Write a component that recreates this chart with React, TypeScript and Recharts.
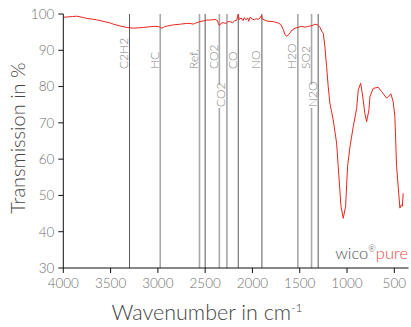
import React from "react";
import { LineChart, Line, XAxis, YAxis, ReferenceLine } from "recharts";

// spectrum (cm-1 / % transmission)
const wavenumbers = [
  4000, 3950, 3900, 3858, 3800, 3753, 3700, 3650, 3612, 3550, 3500, 3471, 3400, 3330, 3260, 3200,
  3150, 3083, 3020, 2990, 2960, 2930, 2900, 2837, 2760, 2700, 2661, 2626, 2600, 2555, 2484, 2420,
  2395, 2370, 2361, 2350, 2330, 2309, 2280, 2260, 2238, 2210, 2190, 2167, 2150, 2140, 2120, 2100,
  2085, 2070, 2050, 2040, 2025, 2000, 1980, 1960, 1940, 1920, 1905, 1895, 1870, 1836, 1780, 1727,
  1700, 1674, 1656, 1638, 1620, 1603, 1580, 1550, 1520, 1480, 1450, 1420, 1390, 1360, 1339, 1310,
  1286, 1262, 1251, 1234, 1216, 1199, 1181, 1146, 1110, 1093, 1064, 1040, 1015, 994, 969, 934,
  898, 881, 856, 839, 811, 793, 768, 758, 723, 670, 634, 581, 536, 512, 494, 476,
  441, 430, 423, 415, 406,
];
const transmission = [
  99.1, 99.2, 99.3, 99.4, 99.1, 98.8, 98.6, 98.4, 98.2, 97.8, 97.5, 97.2, 96.7, 96.3, 96.1, 96.2,
  96.3, 96.5, 96.6, 96.5, 96.1, 96.5, 96.7, 97.0, 97.2, 97.4, 97.4, 97.2, 97.5, 97.9, 98.3, 98.4,
  98.5, 98.2, 97.4, 96.8, 97.5, 97.6, 97.4, 97.9, 97.9, 97.6, 98.1, 98.3, 99.9, 98.5, 98.9, 98.2,
  99.0, 98.4, 98.9, 98.0, 99.1, 98.6, 98.4, 98.7, 98.5, 98.9, 99.6, 98.6, 98.3, 98.0, 97.9, 97.5,
  97.1, 95.7, 94.3, 93.9, 94.2, 94.8, 95.6, 96.1, 96.3, 96.6, 96.4, 96.5, 96.7, 96.9, 97.2, 97.0,
  96.3, 95.0, 94.7, 91.0, 85.5, 80.0, 75.4, 70.8, 64.4, 58.0, 47.0, 43.7, 47.0, 58.0, 63.4, 69.0,
  74.0, 79.1, 80.9, 78.2, 72.6, 70.3, 73.6, 77.2, 79.5, 79.8, 78.6, 76.8, 78.0, 75.8, 71.7, 58.0,
  46.5, 47.2, 47.4, 47.0, 50.6,
];

// gas band markers
const gasNames = ["C2H2", "HC", "Ref.", "", "CO2", "CO2", "CO", "NO", "H2O", "SO2", "N2O"];
const gasBands = [3300, 2975, 2560, 2500, 2350, 2270, 2150, 1900, 1520, 1375, 1305];

const xTicks = [4000, 3500, 3000, 2500, 2000, 1500, 1000, 500];
const yTicks = [30, 40, 50, 60, 70, 80, 90, 100];

const data = wavenumbers.map((wn, i) => ({ wn, t: transmission[i] }));

const darkLines = new Set([0, 3, 6, 7, 10]);
const lowerLabels = new Set([5, 10]);

const FONT = "Lato, 'Open Sans', sans-serif";

function bandLabel(name: string, lower: boolean) {
  return (props: any) => {
    const vb = props.viewBox || {};
    if (!name) return null;
    const x = vb.x - 1.5;
    const y = lower ? 107 : 69;
    const len = name.length * 7.5;
    return (
      <g>
        {lower && <rect x={x - 10} y={y - len} width={10} height={len + 1} fill="#fff" />}
        <text
          x={x}
          y={y}
          transform={`rotate(-90 ${x} ${y})`}
          fontSize={12}
          fontWeight={300}
          fill="#808080"
          fontFamily={FONT}
          textAnchor="start"
        >
          {name}
        </text>
      </g>
    );
  };
}

export default function App() {
  return (
    <div style={{ position: "absolute", left: 0, top: 0, width: 411, height: 327, background: "#fff" }}>
      <LineChart
        width={411}
        height={327}
        data={data}
        margin={{ top: 14, right: 2.5, bottom: 29, left: 13.3 }}
      >
        <XAxis
          dataKey="wn"
          type="number"
          domain={[350, 4000]}
          reversed
          ticks={xTicks}
          allowDataOverflow
          height={30}
          stroke="#111"
          tickSize={5}
          tickMargin={5}
          tick={{ fontSize: 13.5, fill: "#707070", fontFamily: FONT, fontWeight: 300 }}
        />
        <YAxis
          type="number"
          domain={[30, 100]}
          ticks={yTicks}
          allowDataOverflow
          width={50}
          stroke="#111"
          tickSize={5}
          tickMargin={4}
          tick={{ fontSize: 13.5, fill: "#707070", fontFamily: FONT, fontWeight: 300 }}
        />
        {gasBands.map((wn, i) => (
          <ReferenceLine
            key={i}
            x={wn}
            stroke={darkLines.has(i) ? "#5a5a5a" : "#a8a8a8"}
            strokeWidth={darkLines.has(i) ? 1 : 1.6}
            label={bandLabel(gasNames[i], lowerLabels.has(i))}
          />
        ))}
        <Line
          dataKey="t"
          stroke="#e8251c"
          strokeWidth={1}
          dot={false}
          isAnimationActive={false}
        />
        <text
          x={17}
          y={138}
          transform="rotate(-90 17 138)"
          textAnchor="middle"
          dominantBaseline="central"
          fontSize={20}
          fontWeight={300}
          fill="#444"
          fontFamily={FONT}
        >
          Transmission in %
        </text>
        <text x={207} y={320} textAnchor="middle" fontSize={21.5} fontWeight={300} fill="#444" fontFamily={FONT}>
          Wavenumber in cm
          <tspan fontSize={12} dy={-8}>-1</tspan>
        </text>
        <text x={408} y={259} textAnchor="end" fontSize={16.5} fontWeight={300} fontFamily={FONT}>
          <tspan fill="#555">wico</tspan>
          <tspan fill="#555" fontSize={9} dy={-7}>®</tspan>
          <tspan fill="#f04a3e" dy={7}>pure</tspan>
        </text>
      </LineChart>
    </div>
  );
}
